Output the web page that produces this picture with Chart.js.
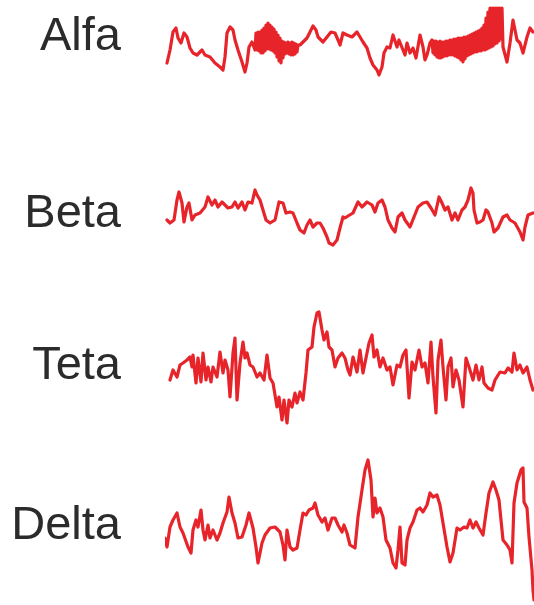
<!DOCTYPE html>
<html>
<head>
<meta charset="utf-8">
<script src="https://cdn.jsdelivr.net/npm/chart.js@4"></script>
<style>
  html, body { margin: 0; padding: 0; background: #fff; }
  #wrap { width: 534px; height: 605px; position: relative; }
</style>
</head>
<body>
<div id="wrap"><canvas id="eegChart"></canvas></div>
<script>
// rhythm names, top to bottom
const bands = ["Alfa", "Beta", "Teta", "Delta"];

// [time, amplitude], time 0..369
const alfa = [
  [2,-18],[5,-5],[8,13],[11,17],[13,7],[16,2],[19,12],[22,8],[25,-3],[28,-8],[32,-10],[37,-5],[40,-10],[45,-12],[50,-18],
  [55,-22],[58,-25],[60,-12],[62,12],[65,18],[68,15],[70,5],[73,-5],[77,-17],[80,-27],[82,-18],[84,-2],[87,3],[90,-5],
  [91,12],[92,-5],[93,13],[94,-6],[95,13],[96,-8],[97,15],[98,-8],[99,17],[100,-6],[101,20],[102,-4],[103,22],[104,-4],
  [105,20],[106,-5],[107,18],[108,-6],[109,16],[110,-8],[111,13],[112,-12],[113,10],[114,-16],[115,7],[116,-18],[117,4],
  [118,-13],[119,3],[120,-9],[121,2],[122,-8],[123,3],[124,-9],[125,2],[126,-10],[127,3],[128,-10],[129,2],[130,-9],
  [131,1],[132,-7],[133,0],
  [135,0],[138,3],[142,7],[145,13],[148,19],[151,15],[153,8],[158,3],[162,8],[166,13],[170,12],[173,5],[175,0],[178,12],
  [182,10],[187,8],[192,13],[195,8],[198,3],[202,-3],[205,-13],[208,-20],[212,-25],[214,-30],[217,-22],[219,-8],[222,-2],
  [225,-3],[228,10],[232,-2],[234,5],[238,-5],[240,-10],[242,2],[245,-8],[248,-3],[251,-13],[255,10],[258,-2],[260,-15],
  [262,-10],[265,2],
  [267,5],[268,-8],[269,4],[270,-10],[271,4],[272,-12],[273,3],[274,-13],[275,4],[276,-13],[277,3],[278,-12],[279,3],
  [280,-11],[281,4],[282,-11],[283,4],[284,-10],[285,5],[286,-10],[287,5],[288,-10],[289,6],[290,-11],[291,6],[292,-12],
  [293,7],[294,-13],[295,7],[296,-15],[297,7],[298,-17],[299,8],[300,-14],[301,8],[302,-11],[303,9],[304,-10],[305,10],
  [306,-9],[307,11],[308,-8],[309,12],[310,-7],[311,13],[312,-7],[313,14],[314,-6],[315,15],[316,-6],[317,17],[318,-5],
  [319,20],[320,-5],[321,27],[322,-4],[323,33],[324,-3],[325,37],[326,-2],[327,37],[328,-1],[329,37],[330,1],[331,37],
  [332,2],[333,37],[334,4],[335,37],[336,6],[337,37],
  [338,-2],[342,-17],[345,2],[348,25],[350,15],[352,5],[355,2],[358,-8],[362,8],[365,17],[368,13]
];

const beta = [
  [2,-5],[5,-8],[9,-5],[12,15],[14,23],[17,12],[19,-7],[22,8],[24,12],[27,-5],[30,0],[35,2],[40,8],[43,18],[47,10],
  [50,15],[53,8],[57,13],[60,10],[63,7],[67,8],[70,13],[73,7],[77,13],[80,5],[83,13],[87,12],[90,25],[92,20],[95,15],
  [98,5],[101,-5],[105,-8],[110,-5],[114,13],[118,12],[121,2],[125,3],[128,2],[132,-8],[135,-15],[139,-18],[142,-10],
  [145,-5],[148,-12],[152,-8],[155,-8],[158,-13],[162,-22],[164,-28],[168,-30],[172,-25],[175,-13],[178,-2],[180,-3],
  [183,-1],[188,2],[193,13],[197,8],[202,13],[207,10],[210,3],[213,12],[217,15],[220,8],[223,-5],[227,-13],[230,-17],
  [233,-2],[237,2],[240,-5],[245,-12],[249,-2],[253,8],[258,12],[262,13],[266,7],[270,0],[274,18],[277,12],[280,5],
  [283,8],[287,-5],[290,2],[293,-5],[297,5],[300,8],[303,15],[306,27],[308,22],[309,5],[312,-8],[315,-7],[318,-5],
  [321,5],[323,3],[327,-8],[329,-17],[333,-13],[338,-2],[342,0],[345,-5],[350,-8],[355,-17],[358,-25],[360,-12],
  [363,0],[368,2]
];

const teta = [
  [5,-10],[8,0],[12,-7],[15,5],[18,7],[22,10],[25,13],[27,3],[28,15],[31,-13],[33,12],[36,-12],[38,17],[41,-10],[43,3],
  [46,-12],[48,3],[52,-7],[55,18],[58,-3],[60,10],[63,0],[65,-27],[68,17],[70,32],[72,-30],[75,7],[78,28],[80,12],
  [82,17],[85,5],[88,3],[92,-7],[95,-3],[99,-10],[102,15],[105,-8],[108,-13],[112,-37],[114,-27],[117,-50],[119,-30],
  [122,-53],[124,-30],[127,-37],[130,-23],[132,-33],[135,-22],[138,-30],[141,-3],[143,20],[147,23],[149,43],[152,57],
  [154,58],[157,40],[159,30],[162,38],[164,23],[167,20],[170,3],[173,12],[177,17],[180,12],[183,0],[185,-5],[188,13],
  [192,-2],[195,20],[198,-3],[201,12],[204,27],[207,35],[209,13],[212,20],[215,3],[218,12],[222,0],[225,3],[228,-15],
  [232,5],[235,3],[238,15],[241,20],[244,-28],[247,8],[250,0],[254,20],[257,3],[260,7],[263,-13],[266,28],[268,-7],
  [271,-43],[273,10],[276,30],[278,3],[281,-30],[283,3],[286,12],[288,-17],[291,0],[294,-10],[298,-37],[301,12],
  [304,3],[308,-10],[311,5],[314,-10],[317,3],[319,-13],[323,-18],[327,-20],[330,-10],[335,-2],[340,-3],[343,2],
  [347,-2],[349,17],[352,0],[355,5],[358,-3],[362,3],[365,-10],[368,-20]
];

const delta = [
  [0,-8],[2,-17],[5,3],[8,10],[12,17],[15,3],[18,-3],[23,-17],[26,-23],[28,0],[31,10],[33,3],[36,20],[38,0],[40,-10],
  [43,5],[45,-8],[48,0],[52,-10],[55,-3],[58,7],[62,18],[64,33],[67,17],[70,7],[73,-8],[77,-7],[81,5],[84,17],[88,2],
  [91,-17],[93,-33],[97,-13],[100,-5],[105,2],[110,3],[115,-2],[118,-15],[120,-30],[122,0],[125,-17],[128,-20],
  [132,-18],[135,0],[138,17],[141,15],[144,20],[148,22],[150,27],[153,15],[157,8],[160,12],[163,0],[167,12],[170,12],
  [173,5],[177,-2],[179,5],[182,-3],[185,-15],[190,-18],[193,13],[197,40],[200,60],[203,70],[206,50],[208,13],
  [210,32],[212,17],[215,22],[218,13],[221,-10],[225,-18],[228,-33],[231,-38],[233,-20],[235,3],[237,-33],[240,-35],
  [242,-10],[245,2],[248,8],[252,20],[255,22],[258,18],[262,25],[265,37],[268,33],[272,35],[275,25],[278,7],[282,-17],
  [285,-32],[288,-23],[292,2],[295,0],[299,3],[302,2],[305,10],[308,2],[311,8],[314,2],[318,-5],[321,17],[324,37],
  [328,48],[331,40],[334,30],[338,-10],[342,-15],[345,-20],[347,-33],[349,27],[352,47],[356,60],[358,62],[359,28],
  [362,22],[364,-7],[367,-40],[368,-60],[369,-70]
];

const traces = [alfa, beta, teta, delta];

// per-band amplitude window and where its name sits
const rangeMax = [45, 85, 80, 85];
const rangeMin = [-85, -75, -75, -75];
const labelAt = [8, 1, 4, 4];

const datasets = traces.map((tr, i) => ({
  label: bands[i],
  data: tr.map(p => ({ x: p[0], y: p[1] })),
  yAxisID: "y" + i,
  borderColor: "#e8242b",
  borderWidth: 3.2,
  pointRadius: 0,
  tension: 0,
  borderJoinStyle: "round",
  borderCapStyle: "round",
}));

const scales = {
  x: { type: "linear", min: 0, max: 369, display: false },
};
bands.forEach((name, i) => {
  scales["y" + i] = {
    type: "linear",
    position: "left",
    stack: "eeg",
    stackWeight: rangeMax[i] - rangeMin[i],
    weight: 10 - i,
    min: rangeMin[i],
    max: rangeMax[i],
    grid: { display: false, drawTicks: false },
    border: { display: false },
    afterBuildTicks: axis => { axis.ticks = [{ value: labelAt[i] }]; },
    afterFit: axis => {
      // keep the big name labels from eating into the plot height
      axis.width = 165;
      axis.paddingTop = 0;
      axis.paddingBottom = 0;
    },
    ticks: {
      padding: 44,
      color: "#2b2b2b",
      font: { family: "'Liberation Sans', Arial, sans-serif", size: 47 },
      callback: () => name,
    },
  };
});

new Chart(document.getElementById("eegChart"), {
  type: "line",
  data: { datasets },
  options: {
    responsive: true,
    maintainAspectRatio: false,
    animation: false,
    layout: { padding: 0 },
    plugins: { legend: { display: false }, tooltip: { enabled: false } },
    scales,
  },
});
</script>
</body>
</html>
